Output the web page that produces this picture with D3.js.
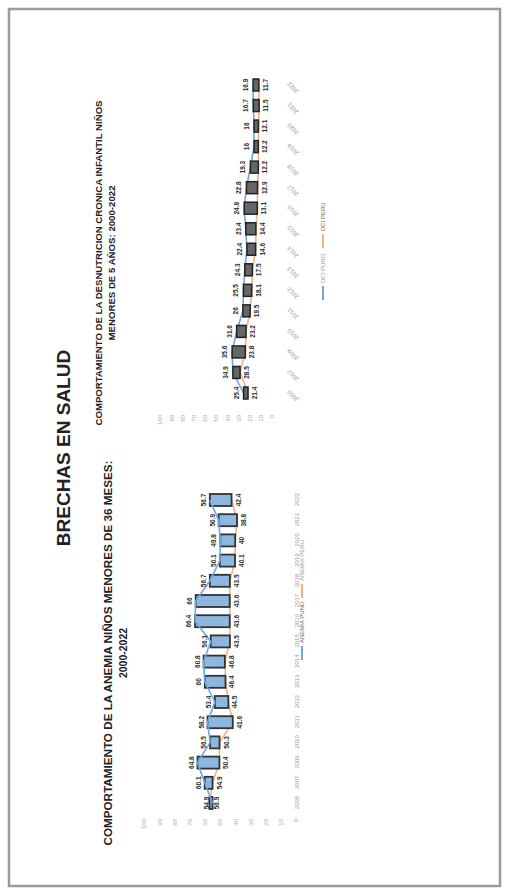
<!DOCTYPE html>
<html><head><meta charset="utf-8">
<script src="https://cdn.jsdelivr.net/npm/d3@7"></script>
<style>html,body{margin:0;padding:0;background:#fff}svg{display:block}</style>
</head><body>
<script>
// ---- data ----
const years1 = ["2000","2007","2009","2010","2011","2012","2013","2014","2015","2016","2017","2018","2019","2020","2021","2022"];
const anemiaRegion = [54.9,60.1,64.8,56.5,58.2,53.4,60,60.8,56.1,66.4,66,56.7,50.1,49.8,50.9,56.7];
const anemiaPeru   = [56.9,54.9,50.4,50.3,41.6,44.5,46.4,46.8,43.5,43.6,43.6,43.5,40.1,40,38.8,42.4];
const years2 = ["2000","2007","2009","2010","2011","2012","2013","2014","2015","2016","2017","2018","2019","2020","2021","2022"];
const dciRegion = [25.4,34.9,35.6,31.6,26,25.5,24.3,22.4,23.4,24.8,22.8,19.3,16,16,16.7,16.9];
const dciPeru   = [21.4,28.5,23.8,23.2,19.5,18.1,17.5,14.6,14.4,13.1,12.9,12.2,12.2,12.1,11.5,11.7];
const ticks = [0,10,20,30,40,50,60,70,80,90,100];
const legend1 = ["ANEMIA PUNO","ANEMIA PERU"];
const legend2 = ["DCI PUNO","DCI PERU"];

const BLUE="#6fa8dc", ORANGE="#f4b183", FONT="Liberation Sans, Arial, sans-serif";
const svg = d3.select("body").append("svg").attr("width",509).attr("height",895);
// landscape frame: u (0..895) along reading direction, v (0..509) downward
const g = svg.append("g").attr("transform","translate(0,895) rotate(-90)");

g.append("rect").attr("x",9).attr("y",9).attr("width",877).attr("height",491)
 .attr("fill","#fff").attr("stroke","#9a9a9a").attr("stroke-width",2.5);

g.append("text").attr("x",447).attr("y",70).attr("text-anchor","middle")
 .attr("font-family",FONT).attr("font-weight","bold").attr("font-size",19)
 .attr("fill","#222").text("BRECHAS EN SALUD");

function title(lines,cx,y0,fs,lens){
  lines.forEach((t,i)=>{
    const tx=g.append("text").attr("x",cx).attr("y",y0+i*(fs+4)).attr("text-anchor","middle")
     .attr("font-family",FONT).attr("font-weight","bold").attr("font-size",fs).attr("fill","#222").text(t);
    if(lens[i]) tx.attr("textLength",lens[i]).attr("lengthAdjust","spacingAndGlyphs");
  });
}
title(["COMPORTAMIENTO DE LA ANEMIA NIÑOS MENORES DE 36 MESES:","2000-2022"],242,112,10.5,[385,null]);
title(["COMPORTAMIENTO DE LA DESNUTRICION CRONICA INFANTIL NIÑOS","MENORES DE 5 AÑOS: 2000-2022"],632,102,8.5,[325,155]);

function labels(cls,d,x,acc,yf,dy){
  g.selectAll("."+cls).data(d).join("text").attr("class",cls)
    .attr("x",e=>x(e.yr)).attr("y",e=>yf(acc(e))+dy)
    .attr("text-anchor","middle").attr("font-family",FONT).attr("font-weight","bold")
    .attr("font-size",6.5).attr("fill","#2a2a2a").text(e=>acc(e));
}

// ---- chart 1 ----
{
  const x = d3.scalePoint().domain(years1).range([92,395]);
  const y = d3.scaleLinear().domain([0,100]).range([296,144]);
  const ax = g.append("g").attr("transform","translate(78,0)")
    .call(d3.axisLeft(y).tickValues(ticks).tickSize(0).tickPadding(2));
  ax.select(".domain").remove();
  ax.selectAll("text").attr("font-family",FONT).attr("font-size",6).attr("fill","#aaa");
  const xa = g.append("g").attr("transform","translate(0,293)")
    .call(d3.axisBottom(x).tickSize(0).tickPadding(2));
  xa.select(".domain").remove();
  xa.selectAll("text").attr("font-family",FONT).attr("font-size",6).attr("fill","#999");
  const d = years1.map((yr,i)=>({yr,a:anemiaRegion[i],b:anemiaPeru[i]}));
  g.append("path").datum(d).attr("fill","none").attr("stroke",ORANGE).attr("stroke-width",1.6)
    .attr("d",d3.line().x(e=>x(e.yr)).y(e=>y(e.b)));
  g.selectAll(".bar1").data(d).join("rect").attr("class","bar1")
    .attr("x",e=>x(e.yr)-6).attr("width",12)
    .attr("y",e=>y(Math.max(e.a,e.b))).attr("height",e=>Math.abs(y(e.a)-y(e.b)))
    .attr("fill","#8cb8e0").attr("stroke","#333").attr("stroke-width",1.8);
  g.append("path").datum(d).attr("fill","none").attr("stroke",BLUE).attr("stroke-width",1.6)
    .attr("d",d3.line().x(e=>x(e.yr)).y(e=>y(e.a)));
  labels("lt1",d,x,e=>e.a,y,-4);
  labels("lb1",d,x,e=>e.b,y,9);
  const lg = g.append("g").attr("transform","translate(235,302)");
  lg.append("line").attr("x1",0).attr("x2",14).attr("stroke",BLUE).attr("stroke-width",2);
  lg.append("text").attr("x",17).attr("y",2).attr("font-family",FONT).attr("font-size",6).attr("fill","#666").text(legend1[0]);
  lg.append("line").attr("x1",62).attr("x2",76).attr("stroke",ORANGE).attr("stroke-width",2);
  lg.append("text").attr("x",79).attr("y",2).attr("font-family",FONT).attr("font-size",6).attr("fill","#999").text(legend1[1]);
}

// ---- chart 2 ----
{
  const x = d3.scalePoint().domain(years2).range([502,810]);
  const y = d3.scaleLinear().domain([0,100]).range([272,160]);
  const ax = g.append("g").attr("transform","translate(482,0)")
    .call(d3.axisLeft(y).tickValues(ticks).tickSize(0).tickPadding(2));
  ax.select(".domain").remove();
  ax.selectAll("text").attr("font-family",FONT).attr("font-size",6).attr("fill","#aaa");
  const xa = g.append("g").attr("transform","translate(0,284)")
    .call(d3.axisBottom(x).tickSize(0).tickPadding(2));
  xa.select(".domain").remove();
  xa.selectAll("text").attr("font-family",FONT).attr("font-size",6).attr("fill","#999")
    .attr("text-anchor","end").attr("transform","rotate(-45)").attr("dx","-2").attr("dy","4");
  const d = years2.map((yr,i)=>({yr,a:dciRegion[i],b:dciPeru[i]}));
  g.append("path").datum(d).attr("fill","none").attr("stroke",ORANGE).attr("stroke-width",1.6)
    .attr("d",d3.line().x(e=>x(e.yr)).y(e=>y(e.b)));
  g.append("path").datum(d).attr("fill","none").attr("stroke",BLUE).attr("stroke-width",1.6)
    .attr("d",d3.line().x(e=>x(e.yr)).y(e=>y(e.a)));
  g.selectAll(".bar2").data(d).join("rect").attr("class","bar2")
    .attr("x",e=>x(e.yr)-6).attr("width",12)
    .attr("y",e=>y(Math.max(e.a,e.b))).attr("height",e=>Math.abs(y(e.a)-y(e.b)))
    .attr("fill","#666").attr("stroke","#222").attr("stroke-width",1.5);
  labels("lt2",d,x,e=>e.a,y,-5);
  labels("lb2",d,x,e=>e.b,y,9);
  const lg = g.append("g").attr("transform","translate(595,323)");
  lg.append("line").attr("x1",0).attr("x2",14).attr("stroke",BLUE).attr("stroke-width",2);
  lg.append("text").attr("x",17).attr("y",2).attr("font-family",FONT).attr("font-size",6).attr("fill","#999").text(legend2[0]);
  lg.append("line").attr("x1",52).attr("x2",66).attr("stroke",ORANGE).attr("stroke-width",2);
  lg.append("text").attr("x",69).attr("y",2).attr("font-family",FONT).attr("font-size",6).attr("fill","#666").text(legend2[1]);
}
</script>
</body></html>
